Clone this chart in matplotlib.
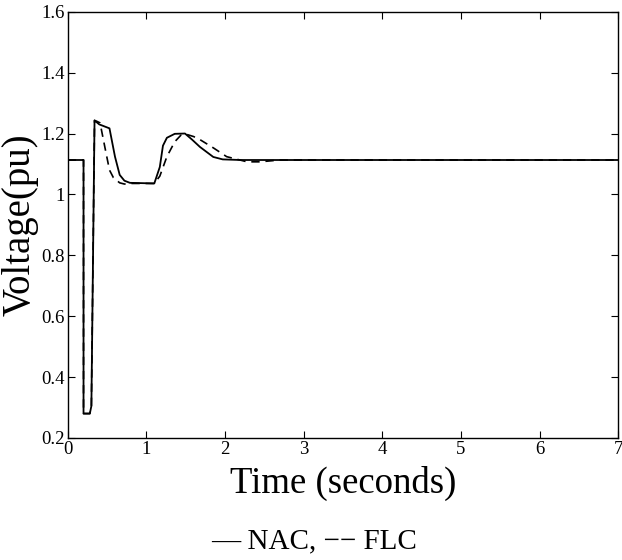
import numpy as np
import matplotlib
matplotlib.use('Agg')
import matplotlib.pyplot as plt

plt.rcParams['font.family'] = ['Liberation Serif', 'DejaVu Serif']

# NAC response (solid)
t_nac = [0, 0.2, 0.2, 0.28, 0.30, 0.34, 0.40, 0.53, 0.60, 0.66, 0.72, 0.79, 1.10, 1.17,
         1.21, 1.26, 1.36, 1.49, 1.58, 1.68, 1.85, 1.97, 2.20, 7.0]
v_nac = [1.113, 1.113, 0.28, 0.28, 0.305, 1.243, 1.23, 1.217, 1.124, 1.064, 1.045, 1.038, 1.036, 1.09,
         1.16, 1.186, 1.199, 1.20, 1.18, 1.156, 1.123, 1.115, 1.113, 1.113]

# FLC response (dashed)
t_flc = [0, 0.2, 0.2, 0.28, 0.30, 0.34, 0.37, 0.41, 0.47, 0.53, 0.58, 0.66, 0.72, 0.80, 1.10,
         1.17, 1.26, 1.36, 1.44, 1.50, 1.60, 1.68, 1.85, 2.02, 2.28, 2.44, 2.70, 3.0, 7.0]
v_flc = [1.113, 1.113, 0.28, 0.28, 0.305, 1.243, 1.24, 1.235, 1.157, 1.08, 1.055, 1.038, 1.034, 1.036, 1.036,
         1.06, 1.124, 1.173, 1.195, 1.198, 1.19, 1.18, 1.153, 1.124, 1.107, 1.107, 1.113, 1.113, 1.113]

fig = plt.figure(figsize=(6.22, 5.6), dpi=100)
ax = fig.add_axes([0.109, 0.218, 0.885, 0.761])

ax.plot(t_nac, v_nac, 'k-', lw=1.3)
ax.plot(t_flc, v_flc, 'k--', lw=1.2, dashes=(5, 3.5))

ax.set_xlim(0, 7)
ax.set_ylim(0.2, 1.6)
ax.set_xticks(np.arange(0, 8, 1))
ax.set_yticks([0.2, 0.4, 0.6, 0.8, 1.0, 1.2, 1.4, 1.6])
ax.set_yticklabels(['0.2', '0.4', '0.6', '0.8', '1', '1.2', '1.4', '1.6'])
ax.tick_params(direction='in', top=True, right=True, labelsize=13.5, length=5, pad=2)
for s in ax.spines.values():
    s.set_linewidth(1.0)

ax.set_xlabel('Time (seconds)', fontsize=26.5, labelpad=6)
ax.set_ylabel('Voltage(pu)', fontsize=28, labelpad=2)

# caption line under the axes
fig.text(0.505, 0.033, '\u2014 NAC, \u2212\u2212 FLC', ha='center', va='center', fontsize=21)

fig.savefig('out.png', dpi=100)
